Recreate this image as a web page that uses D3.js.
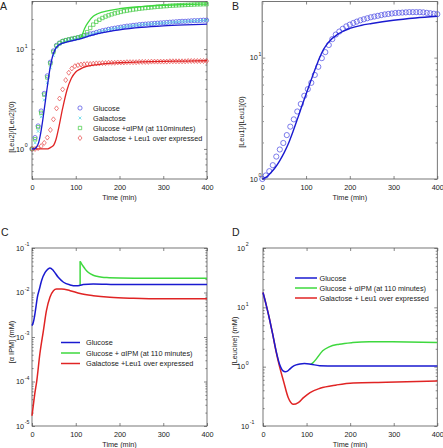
<!DOCTYPE html>
<html><head><meta charset="utf-8">
<script src="https://cdn.jsdelivr.net/npm/d3@7"></script>
<style>body{margin:0;background:#fff}svg{display:block}text{font-family:"Liberation Sans",Arial,sans-serif;fill:#222}</style>
</head><body><svg id="c" width="443" height="448"></svg>
<script>
// ---------- Panel A data (markers) ----------
const tA = [0,7,14,21,28,35,42,49,56,63,70,77,84,91,98,105,112,119,126,133,140,147,154,161,168,175,182,189,196,203,210,217,224,231,238,245,252,259,266,273,280,287,294,301,308,315,322,329,336,343,350,357,364,371,378,385,392,399];
const glucoseA = [1.0,1.3,1.7,2.4,3.6,5.4,7.4,9.6,10.9,11.5,12.0,12.2,12.4,12.6,12.8,13.0,13.3,13.6,13.9,14.2,14.4,14.7,15.0,15.3,15.5,15.8,16.0,16.2,16.4,16.6,16.8,17.0,17.1,17.3,17.4,17.6,17.7,17.8,17.9,18.0,18.1,18.2,18.3,18.4,18.5,18.6,18.7,18.8,18.9,19.0,19.0,19.1,19.2,19.3,19.3,19.4,19.5,19.5];
const galactoseA = [1.0,1.15,1.5,2.1,3.1,4.6,6.5,8.6,10.3,11.2,11.7,12.0,12.2,12.4,12.6,12.8,13.1,13.4,13.7,14.0,14.3,14.6,14.9,15.2,15.4,15.7,15.9,16.1,16.3,16.5,16.7,16.9,17.0,17.2,17.3,17.5,17.6,17.7,17.8,17.9,18.0,18.1,18.2,18.3,18.4,18.5,18.6,18.7,18.8,18.9,18.9,19.0,19.1,19.2,19.2,19.3,19.4,19.4];
const glucoseIpmA = [1.0,1.25,1.65,2.3,3.5,5.2,7.2,9.4,10.8,11.5,12.0,12.3,12.5,12.7,12.9,13.1,13.3,13.8,14.8,16.3,17.6,18.8,19.7,20.5,21.2,21.8,22.3,22.8,23.2,23.6,24.0,24.3,24.6,24.9,25.1,25.4,25.6,25.8,26.0,26.2,26.4,26.6,26.7,26.9,27.0,27.2,27.3,27.4,27.5,27.6,27.7,27.8,27.9,28.0,28.1,28.1,28.2,28.2];
const leu1OverA = [1.0,1.0,1.02,1.07,1.15,1.3,1.55,1.98,2.55,3.2,3.95,4.9,5.8,6.4,6.75,6.9,7.0,7.05,7.1,7.1,7.15,7.2,7.2,7.25,7.25,7.3,7.3,7.3,7.35,7.35,7.35,7.4,7.4,7.4,7.4,7.45,7.45,7.45,7.45,7.5,7.5,7.5,7.5,7.5,7.5,7.55,7.55,7.55,7.55,7.55,7.55,7.6,7.6,7.6,7.6,7.6,7.6,7.6];
// ---------- Panel A model lines ----------
const tLineA = [0,5,10,15,20,25,30,35,40,45,50,55,60,70,80,90,100,110,125,150,175,200,250,300,350,400];
const glucoseLineA = [1.0,1.0,1.04,1.15,1.45,2.0,2.9,4.2,6.0,7.8,9.3,10.3,10.9,11.5,11.8,12.1,12.4,12.7,13.3,14.3,15.0,15.6,16.5,17.1,17.5,17.8];
const leu1OverLineA = [1.0,1.0,1.0,1.0,1.0,1.0,1.0,1.0,1.02,1.05,1.1,1.25,1.55,2.55,3.9,5.1,5.9,6.3,6.7,7.0,7.2,7.3,7.45,7.55,7.6,7.65];
const tIpmLineA = [110,115,120,130,140,150,175,200,250,300,350,400];
const glucoseIpmLineA = [12.7,14.0,16.0,19.0,21.3,22.6,24.3,25.4,26.7,27.5,28.0,28.3];
// ---------- Panel B ----------
const tB = [0,8,16,24,32,40,48,56,64,72,80,88,96,104,112,120,128,136,144,152,160,168,176,184,192,200,208,216,224,232,240,248,256,264,272,280,288,296,304,312,320,328,336,344,352,360,368,376,384,392,400];
const leu1B = [1.0,1.07,1.16,1.3,1.53,1.75,1.98,2.3,2.7,3.1,3.6,4.15,4.85,5.5,6.2,7.2,8.4,9.9,11.1,12.7,14.2,15.5,16.4,17.3,18.1,18.7,19.3,19.8,20.3,20.7,21.1,21.5,21.8,22.1,22.4,22.7,22.9,23.1,23.3,23.4,23.5,23.6,23.7,23.7,23.7,23.7,23.6,23.4,23.2,23.0,22.8];
const tLineB = [0,10,20,30,40,50,60,70,80,90,100,110,120,130,140,150,175,200,225,250,300,350,400];
const leu1LineB = [1.0,1.04,1.13,1.25,1.42,1.65,1.97,2.45,3.1,3.95,5.0,6.3,7.9,9.8,11.7,13.2,15.8,17.4,18.4,19.1,20.3,21.2,21.9];
// ---------- Panel C (alpha-IPM, mM) ----------
const tGlucoseC = [0,3,6,9,12,17,22,30,37,41,49,60,72,87,102,110,117,140,170,200,250,300,350,400];
const glucoseC = [0.0018,0.00214,0.0030,0.0047,0.0076,0.012,0.0186,0.0282,0.0339,0.0355,0.0309,0.0219,0.0170,0.0148,0.0141,0.0145,0.0151,0.0155,0.0153,0.0151,0.0151,0.0151,0.0151,0.0151];
const tIpmC = [110,110,113,117,122,129,140,148,160,171,200,250,300,400];
const glucoseIpmC = [0.0145,0.0501,0.0447,0.0389,0.0331,0.0282,0.0245,0.0232,0.0221,0.0216,0.0211,0.0209,0.0209,0.0209];
const tLeu1C = [0,3,6,11,18,26,33,41,49,56,68,87,110,140,178,232,300,400];
const leu1OverC = [0.000017,0.000029,0.00005,0.000105,0.00042,0.00138,0.0039,0.0078,0.0110,0.0120,0.0120,0.0110,0.0095,0.0085,0.0078,0.0074,0.0072,0.0072];
// ---------- Panel D (Leucine, mM) ----------
const tGlucoseD = [0,8,15,22,30,38,46,51,56,61,68,76,85,95,110,130,168,250,400];
const glucoseD = [17.8,10.5,6.3,3.6,1.85,1.10,0.85,0.82,0.84,0.906,1.0,1.07,1.11,1.13,1.10,1.04,1.03,1.03,1.03];
const tIpmD = [110,115,122,137,152,175,206,244,297,400];
const glucoseIpmD = [1.10,1.17,1.34,1.85,2.16,2.39,2.55,2.63,2.62,2.55];
const tLeu1D = [0,8,15,22,30,38,47,58,70,81,93,108,131,169,207,283,400];
const leu1OverD = [17.8,10.5,6.3,3.6,1.8,1.0,0.575,0.30,0.232,0.248,0.30,0.366,0.433,0.493,0.533,0.547,0.575];
const xTickVals = [0,100,200,300,400];

const svg = d3.select('#c');
const axisCol = '#555';
const FS = 7.3;
const zip = (t, v) => t.map((d, i) => [d, v[i]]);
const isPow10 = v => Math.abs(Math.log10(v) - Math.round(Math.log10(v))) < 1e-6;

function clean(sel) {
  sel.select('.domain').remove();
  sel.selectAll('line').attr('stroke', axisCol).attr('stroke-width', 0.7);
}

function panel(c) {
  const x = d3.scaleLinear().domain([0, 400]).range([c.x0, c.x1]);
  const y = d3.scaleLog().domain(c.yDom).range([c.yBot, c.yTop]);
  const g = svg.append('g');
  g.append('rect').attr('x', c.x0).attr('y', c.yTop).attr('width', c.x1 - c.x0).attr('height', c.yBot - c.yTop)
    .attr('fill', 'none').attr('stroke', axisCol).attr('stroke-width', 0.8);
  const xb = g.append('g').attr('transform', `translate(0,${c.yBot})`)
    .call(d3.axisBottom(x).tickValues(xTickVals).tickSize(-3).tickPadding(6.3).tickFormat(d3.format('d')));
  clean(xb);
  xb.selectAll('text').attr('font-size', FS).attr('fill', '#222').attr('font-family', '"Liberation Sans",Arial,sans-serif');
  const xt = g.append('g').attr('transform', `translate(0,${c.yTop})`)
    .call(d3.axisTop(x).tickValues(xTickVals).tickSize(-3).tickFormat(''));
  clean(xt);
  const all = y.ticks();
  const maj = all.filter(isPow10), mnr = all.filter(v => !isPow10(v));
  [[d3.axisLeft, c.x0], [d3.axisRight, c.x1]].forEach(([ax, px]) => {
    clean(g.append('g').attr('transform', `translate(${px},0)`).call(ax(y).tickValues(maj).tickSize(-3).tickFormat('')));
    clean(g.append('g').attr('transform', `translate(${px},0)`).call(ax(y).tickValues(mnr).tickSize(-1.6).tickFormat('')));
  });
  maj.forEach(v => {
    const e = Math.round(Math.log10(v));
    const yy = y(v);
    const xe = c.x0 - (e < 0 ? c.offNeg : c.offPos);
    g.append('text').attr('x', xe).attr('y', yy + 2.7).attr('text-anchor', 'end').attr('font-size', FS).text('10');
    g.append('text').attr('x', xe + 0.7).attr('y', yy - 1.6).attr('text-anchor', 'start').attr('font-size', 5.2).text(e < 0 ? '-' + (-e) : '' + e);
  });
  g.append('text').attr('x', (c.x0 + c.x1) / 2).attr('y', c.xTitleY).attr('text-anchor', 'middle').attr('font-size', FS).text('Time (min)');
  g.append('text').attr('transform', `translate(${c.yTitleX},${c.yTitleY}) rotate(-90)`).attr('text-anchor', 'middle').attr('font-size', FS).text(c.yTitle);
  g.append('text').attr('x', c.letterX).attr('y', c.letterY).attr('font-size', 10.5).text(c.letter);
  return { x, y, g };
}

function drawLine(p, data, color, w) {
  const segs = [[data[0]]];
  for (let i = 1; i < data.length; i++) {
    if (data[i][0] === data[i - 1][0]) {
      p.g.append('line').attr('x1', p.x(data[i][0])).attr('x2', p.x(data[i][0]))
        .attr('y1', p.y(data[i - 1][1])).attr('y2', p.y(data[i][1])).attr('stroke', color).attr('stroke-width', w);
      segs.push([data[i]]);
    } else segs[segs.length - 1].push(data[i]);
  }
  const ln = d3.line().x(d => p.x(d[0])).y(d => p.y(d[1])).curve(d3.curveMonotoneX);
  segs.filter(s => s.length > 1).forEach(s =>
    p.g.append('path').attr('d', ln(s)).attr('fill', 'none').attr('stroke', color).attr('stroke-width', w).attr('stroke-linejoin', 'round'));
}

const sym = {
  circle: r => `M${r},0A${r},${r} 0 1,1 ${-r},0A${r},${r} 0 1,1 ${r},0Z`,
  cross: r => `M${-r},${-r}L${r},${r}M${-r},${r}L${r},${-r}`,
  square: r => `M${-r},${-r}H${r}V${r}H${-r}Z`,
  diamond: r => `M0,${-r * 1.25}L${r},0L0,${r * 1.25}L${-r},0Z`
};
function drawMarks(p, data, shape, r, color) {
  p.g.append('g').selectAll('path').data(data).join('path')
    .attr('transform', d => `translate(${p.x(d[0])},${p.y(d[1])})`)
    .attr('d', sym[shape](r)).attr('fill', 'none').attr('stroke', color).attr('stroke-width', 0.75);
}

const BLUE = '#1a1ad0', BLUEM = '#5252e4', CYAN = '#4fd6e6', GREEN = '#3ed83e', GREENM = '#48cc48', RED = '#e02424', REDM = '#e85050';

// ---------- A ----------
const A = panel({ x0: 32, x1: 207, yTop: 1.5, yBot: 179, yDom: [0.5, 30], offPos: 8, offNeg: 8, xTitleY: 199.5, yTitleX: 13.5, yTitleY: 127,
  yTitle: '[Leu2]/[Leu2](0)', letter: 'A', letterX: 0, letterY: 10 });
drawMarks(A, zip(tA, glucoseA), 'circle', 2.1, BLUEM);
drawMarks(A, zip(tA, galactoseA), 'cross', 1.4, CYAN);
drawMarks(A, zip(tA, glucoseIpmA), 'square', 1.7, GREENM);
drawMarks(A, zip(tA, leu1OverA), 'diamond', 2.0, REDM);
drawLine(A, zip(tIpmLineA, glucoseIpmLineA), GREEN, 1.3);
drawLine(A, zip(tLineA, leu1OverLineA), RED, 1.3);
drawLine(A, zip(tLineA, glucoseLineA), BLUE, 1.3);
const legA = [['circle', 2.1, BLUEM, 'Glucose'], ['cross', 1.4, CYAN, 'Galactose'], ['square', 1.7, GREENM, 'Glucose +\u03b1IPM (at 110minutes)'], ['diamond', 2.0, REDM, 'Galactose + Leu1 over expressed']];
legA.forEach((d, i) => {
  const yy = 108 + i * 10;
  A.g.append('path').attr('transform', `translate(80,${yy})`).attr('d', sym[d[0]](d[1])).attr('fill', 'none').attr('stroke', d[2]).attr('stroke-width', 0.75);
  A.g.append('text').attr('x', 93).attr('y', yy + 2.6).attr('font-size', FS).text(d[3]);
});

// ---------- B ----------
const B = panel({ x0: 262.3, x1: 437.3, yTop: 1.5, yBot: 179, yDom: [1, 29], offPos: 4.5, offNeg: 4.5, xTitleY: 199.5, yTitleX: 243.5, yTitleY: 122,
  yTitle: '[Leu1]/[Leu1](0)', letter: 'B', letterX: 232, letterY: 10 });
B.g.append('line').attr('x1', 262.3).attr('x2', 262.3).attr('y1', 1.5).attr('y2', 179).attr('stroke', '#999').attr('stroke-width', 1.4);
drawMarks(B, zip(tB, leu1B), 'circle', 2.6, BLUEM);
drawLine(B, zip(tLineB, leu1LineB), BLUE, 1.4);

// ---------- C ----------
const C = panel({ x0: 32, x1: 207, yTop: 248, yBot: 426, yDom: [1e-5, 1e-1], offPos: 8, offNeg: 8, xTitleY: 447, yTitleX: 13.5, yTitleY: 342,
  yTitle: '[\u03b1 IPM] (mM)', letter: 'C', letterX: 1, letterY: 236 });
drawLine(C, zip(tIpmC, glucoseIpmC), GREEN, 1.5);
drawLine(C, zip(tLeu1C, leu1OverC), RED, 1.5);
drawLine(C, zip(tGlucoseC, glucoseC), BLUE, 1.5);
const legC = [[BLUE, 'Glucose'], [GREEN, 'Glucose + \u03b1IPM (at 110 minutes)'], [RED, 'Galactose +Leu1 over expressed']];
legC.forEach((d, i) => {
  const yy = 342.5 + i * 10.5;
  C.g.append('line').attr('x1', 61).attr('x2', 80).attr('y1', yy).attr('y2', yy).attr('stroke', d[0]).attr('stroke-width', 1.5);
  C.g.append('text').attr('x', 86).attr('y', yy + 2.6).attr('font-size', FS).text(d[1]);
});

// ---------- D ----------
const D = panel({ x0: 263, x1: 437.3, yTop: 248, yBot: 426, yDom: [0.1, 100], offPos: 18, offNeg: 14, xTitleY: 447, yTitleX: 237, yTitleY: 341,
  yTitle: '[Leucine] (mM)', letter: 'D', letterX: 232, letterY: 236 });
drawLine(D, zip(tIpmD, glucoseIpmD), GREEN, 1.5);
drawLine(D, zip(tLeu1D, leu1OverD), RED, 1.5);
drawLine(D, zip(tGlucoseD, glucoseD), BLUE, 1.5);
const legD = [[BLUE, 'Glucose'], [GREEN, 'Glucose + \u03b1IPM (at 110 minutes)'], [RED, 'Galactose + Leu1 over expressed']];
legD.forEach((d, i) => {
  const yy = 278 + i * 10;
  D.g.append('line').attr('x1', 295).attr('x2', 317).attr('y1', yy).attr('y2', yy).attr('stroke', d[0]).attr('stroke-width', 1.5);
  D.g.append('text').attr('x', 319.5).attr('y', yy + 2.6).attr('font-size', FS).text(d[1]);
});
</script></body></html>
